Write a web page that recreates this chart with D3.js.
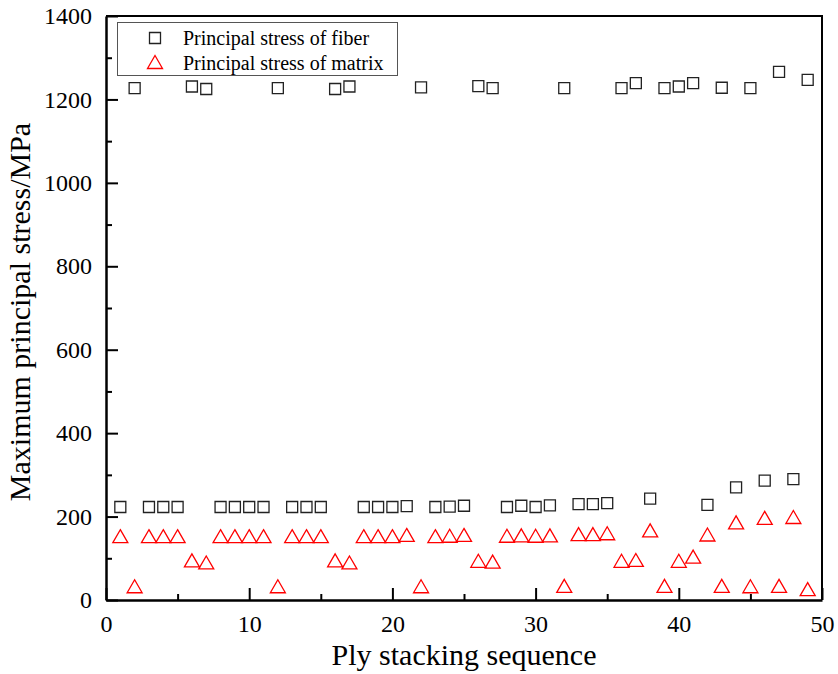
<!DOCTYPE html>
<meta charset="utf-8">
<script src="https://d3js.org/d3.v7.min.js"></script>
<style>
  body { margin: 0; background: #fff; }
  svg text { font-family: "Liberation Serif", "Times New Roman", serif; }
</style>
<div id="chart"></div>
<script>

var serif = "'Liberation Serif', 'Times New Roman', serif";

// ply index along the stacking sequence
var plies = d3.range(1, 50);

// maximum principal stress of fiber (MPa)
var fiberStress = [223, 1227, 223, 223, 223, 1231, 1225, 223, 223, 223,
                   223, 1227, 223, 223, 223, 1225, 1231, 223, 223, 223,
                   225, 1229, 223, 224, 226, 1232, 1227, 223, 226, 223,
                   227, 1227, 230, 230, 232, 1227, 1239, 243, 1227, 1231,
                   1239, 228, 1228, 270, 1227, 286, 1266, 290, 1247];

// maximum principal stress of matrix (MPa)
var matrixStress = [153, 33, 153, 153, 153, 95, 90, 153, 153, 153,
                    153, 33, 153, 153, 153, 95, 90, 153, 153, 153,
                    156, 33, 153, 154, 156, 94, 92, 154, 155, 154,
                    155, 34, 158, 158, 160, 94, 96, 167, 34, 94,
                    104, 157, 34, 186, 33, 197, 34, 199, 26];

var xTicks = [0, 10, 20, 30, 40, 50];
var yTicks = [0, 200, 400, 600, 800, 1000, 1200, 1400];

var W = 838, H = 674;
var plotL = 106, plotR = 822, plotT = 16, plotB = 600;

var svg = d3.select("#chart").append("svg")
    .attr("width", W)
    .attr("height", H)
    .attr("font-family", serif);

var x = d3.scaleLinear().domain([0, 50]).range([plotL, plotR]);
var y = d3.scaleLinear().domain([0, 1400]).range([plotB, plotT]);

// minor ticks (inward, no labels)
svg.append("g")
    .attr("transform", "translate(0," + plotB + ")")
    .call(d3.axisBottom(x).tickValues(d3.range(5, 50, 10)).tickSize(-6).tickSizeOuter(0).tickFormat(""))
    .call(g => g.select(".domain").remove())
    .selectAll("line").attr("stroke-width", 2);
svg.append("g")
    .attr("transform", "translate(" + plotL + ",0)")
    .call(d3.axisLeft(y).tickValues(d3.range(100, 1400, 200)).tickSize(-6).tickSizeOuter(0).tickFormat(""))
    .call(g => g.select(".domain").remove())
    .selectAll("line").attr("stroke-width", 2);

// X axis
var gx = svg.append("g")
    .attr("transform", "translate(0," + plotB + ")")
    .call(d3.axisBottom(x).tickValues(xTicks).tickSize(-12).tickSizeOuter(0).tickPadding(15).tickFormat(d3.format("d")));
gx.attr("font-family", serif);
gx.selectAll("text").attr("font-size", 24).attr("font-family", serif).attr("fill", "#000");
gx.selectAll("line").attr("stroke-width", 2);
gx.select(".domain").attr("stroke-width", 2.5);

// Y axis
var gy = svg.append("g")
    .attr("transform", "translate(" + plotL + ",0)")
    .call(d3.axisLeft(y).tickValues(yTicks).tickSize(-12).tickSizeOuter(0).tickPadding(14).tickFormat(d3.format("d")));
gy.attr("font-family", serif);
gy.selectAll("text").attr("font-size", 24).attr("font-family", serif).attr("fill", "#000");
gy.selectAll("line").attr("stroke-width", 2);
gy.select(".domain").attr("stroke-width", 2.5);

// top and right border
svg.append("path")
    .attr("d", "M" + plotL + "," + plotT + "H" + plotR + "V" + plotB)
    .attr("fill", "none")
    .attr("stroke", "#000")
    .attr("stroke-width", 2);

// axis titles
svg.append("text")
    .attr("x", (plotL + plotR) / 2)
    .attr("y", 665)
    .attr("text-anchor", "middle")
    .attr("font-size", 30)
    .text("Ply stacking sequence");

svg.append("text")
    .attr("transform", "translate(30,312)rotate(-90)")
    .attr("text-anchor", "middle")
    .attr("font-size", 30)
    .text("Maximum principal stress/MPa");

// marker shapes
var sq = 11;
function squarePath(cx, cy) {
  return "M" + (cx - sq / 2) + "," + (cy - sq / 2) + "h" + sq + "v" + sq + "h" + (-sq) + "Z";
}
var tw = 15, th = 13;
function trianglePath(cx, cy) {
  return "M" + cx + "," + (cy - th / 2) + "L" + (cx + tw / 2) + "," + (cy + th / 2) +
         "L" + (cx - tw / 2) + "," + (cy + th / 2) + "Z";
}

// matrix (triangles)
svg.append("g").selectAll("path")
  .data(plies)
  .enter()
  .append("path")
    .attr("d", function(d, i) { return trianglePath(x(d), y(matrixStress[i])); })
    .attr("fill", "none")
    .attr("stroke", "#ff0000")
    .attr("stroke-width", 1.3);

// fiber (squares)
svg.append("g").selectAll("path")
  .data(plies)
  .enter()
  .append("path")
    .attr("d", function(d, i) { return squarePath(x(d), y(fiberStress[i])); })
    .attr("fill", "none")
    .attr("stroke", "#222")
    .attr("stroke-width", 1.3);

// legend
var legend = svg.append("g");
legend.append("rect")
    .attr("x", 117.5).attr("y", 22.5)
    .attr("width", 280).attr("height", 53)
    .attr("fill", "#fff")
    .attr("stroke", "#555")
    .attr("stroke-width", 1);
legend.append("path")
    .attr("d", squarePath(155, 38))
    .attr("fill", "none").attr("stroke", "#222").attr("stroke-width", 1.3);
legend.append("path")
    .attr("d", trianglePath(155, 62))
    .attr("fill", "none").attr("stroke", "#ff0000").attr("stroke-width", 1.3);
legend.append("text")
    .attr("x", 183).attr("y", 45)
    .attr("font-size", 20)
    .text("Principal stress of fiber");
legend.append("text")
    .attr("x", 183).attr("y", 70)
    .attr("font-size", 20)
    .text("Principal stress of matrix");

</script>
